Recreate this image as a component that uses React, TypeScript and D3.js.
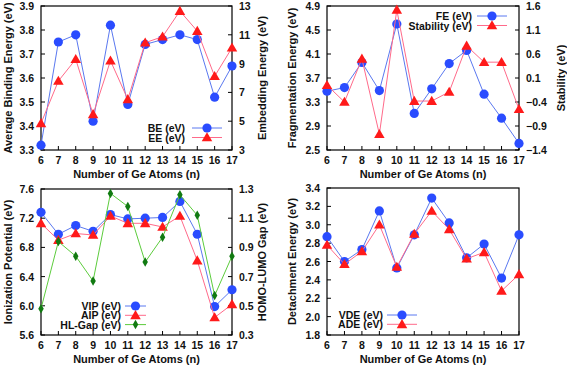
import React, { useEffect, useRef } from 'react';
import * as d3 from 'd3';

const atoms = [6, 7, 8, 9, 10, 11, 12, 13, 14, 15, 16, 17];

// panel (a)
const beValues = [3.32, 3.75, 3.78, 3.42, 3.82, 3.49, 3.74, 3.76, 3.78, 3.76, 3.52, 3.65];
const eeValues = [4.85, 7.79, 9.3, 5.48, 9.2, 6.52, 10.45, 10.87, 12.65, 11.26, 8.12, 10.1];
// panel (b)
const feValues = [3.48, 3.54, 3.96, 3.49, 4.6, 3.11, 3.52, 3.94, 4.16, 3.43, 3.03, 2.61];
const stabilityValues = [-0.05, -0.4, 0.5, -1.07, 1.52, -0.38, -0.38, -0.19, 0.77, 0.43, 0.43, -0.55];
// panel (c)
const vipValues = [7.28, 6.98, 7.1, 7.02, 7.25, 7.19, 7.2, 7.21, 7.43, 6.98, 5.99, 6.22];
const aipValues = [7.13, 6.9, 6.99, 6.97, 7.23, 7.13, 7.13, 7.08, 7.23, 6.62, 5.84, 6.02];
const hlGapValues = [0.48, 0.94, 0.84, 0.67, 1.27, 1.18, 0.8, 0.97, 1.26, 1.12, 0.57, 0.84];
// panel (d)
const vdeValues = [2.87, 2.6, 2.73, 3.15, 2.53, 2.89, 3.29, 3.02, 2.64, 2.79, 2.42, 2.89];
const adeValues = [2.78, 2.57, 2.71, 3.0, 2.54, 2.9, 3.15, 2.95, 2.63, 2.7, 2.28, 2.46];

const leftTicksA = [3.3, 3.4, 3.5, 3.6, 3.7, 3.8, 3.9];
const rightTicksA = [3, 5, 7, 9, 11, 13];
const leftTicksB = [2.5, 2.9, 3.3, 3.7, 4.1, 4.5, 4.9];
const rightTicksB = [-1.4, -0.9, -0.4, 0.1, 0.6, 1.1, 1.6];
const leftTicksC = [5.6, 6.0, 6.4, 6.8, 7.2, 7.6];
const rightTicksC = [0.3, 0.5, 0.7, 0.9, 1.1, 1.3];
const leftTicksD = [1.8, 2.0, 2.2, 2.4, 2.6, 2.8, 3.0, 3.2, 3.4];

const BLUE = { line: '#5a78f0', mark: '#2a4cff', shape: 'circle' };
const RED = { line: '#ff6a8a', mark: '#ff1a1a', shape: 'triangle' };
const GREEN = { line: '#5ccc3c', mark: '#117a11', shape: 'diamond' };

const FONT = '"Liberation Sans", Arial, sans-serif';

const panels = [
  {
    box: { x0: 41, x1: 232, y0: 6, y1: 150 },
    left: { ticks: leftTicksA, label: 'Average Binding Energy (eV)', labelX: 8, fmt: '.1f' },
    right: { ticks: rightTicksA, label: 'Embedding Energy (eV)', labelX: 262, fmt: 'd' },
    series: [
      { name: 'BE (eV)', values: beValues, axis: 'left', style: BLUE },
      { name: 'EE (eV)', values: eeValues, axis: 'right', style: RED },
    ],
    legend: { textX: 185, lineX0: 192, lineX1: 222, y0: 128, dy: 9.5 },
  },
  {
    box: { x0: 327, x1: 519, y0: 6, y1: 150 },
    left: { ticks: leftTicksB, label: 'Fragmentation Energy (eV)', labelX: 292, fmt: '.1f' },
    right: { ticks: rightTicksB, label: 'Stability (eV)', labelX: 561, fmt: '.1f' },
    series: [
      { name: 'FE (eV)', values: feValues, axis: 'left', style: BLUE },
      { name: 'Stability (eV)', values: stabilityValues, axis: 'right', style: RED },
    ],
    legend: { textX: 472, lineX0: 477, lineX1: 507, y0: 16, dy: 9.5 },
  },
  {
    box: { x0: 41, x1: 232, y0: 189, y1: 335 },
    left: { ticks: leftTicksC, label: 'Ionization Potential (eV)', labelX: 8, fmt: '.1f' },
    right: { ticks: rightTicksC, label: 'HOMO-LUMO Gap (eV)', labelX: 262, fmt: '.1f' },
    series: [
      { name: 'VIP (eV)', values: vipValues, axis: 'left', style: BLUE },
      { name: 'AIP (eV)', values: aipValues, axis: 'left', style: RED },
      { name: 'HL-Gap (eV)', values: hlGapValues, axis: 'right', style: GREEN },
    ],
    legend: { textX: 121, lineX0: 125, lineX1: 146, y0: 306, dy: 9.3 },
  },
  {
    box: { x0: 327, x1: 519, y0: 188, y1: 335 },
    left: { ticks: leftTicksD, label: 'Detachment Energy (eV)', labelX: 292, fmt: '.1f' },
    right: null,
    series: [
      { name: 'VDE (eV)', values: vdeValues, axis: 'left', style: BLUE },
      { name: 'ADE (eV)', values: adeValues, axis: 'left', style: RED },
    ],
    legend: { textX: 383, lineX0: 387, lineX1: 417, y0: 315, dy: 9.3 },
  },
];

function drawMarker(g, shape, x, y, color) {
  if (shape === 'circle') {
    g.append('circle').attr('cx', x).attr('cy', y).attr('r', 4.6).attr('fill', color);
  } else if (shape === 'triangle') {
    const sym = d3.symbol().type(d3.symbolTriangle).size(48);
    g.append('path').attr('d', sym()).attr('transform', `translate(${x},${y + 0.8})`).attr('fill', color);
  } else {
    const sym = d3.symbol().type(d3.symbolDiamond).size(26);
    g.append('path').attr('d', sym()).attr('transform', `translate(${x},${y})`).attr('fill', color);
  }
}

function App() {
  const svgRef = useRef(null);

  useEffect(() => {
    const svg = d3.select(svgRef.current);
    svg.selectAll('*').remove();

    panels.forEach((p) => {
      const { x0, x1, y0, y1 } = p.box;
      const g = svg.append('g');
      const xScale = d3.scaleLinear().domain([6, 17]).range([x0, x1]);
      const yLeft = d3.scaleLinear().domain(d3.extent(p.left.ticks)).range([y1, y0]);
      const yRight = p.right
        ? d3.scaleLinear().domain(d3.extent(p.right.ticks)).range([y1, y0])
        : yLeft;

      // frame
      g.append('rect')
        .attr('x', x0).attr('y', y0)
        .attr('width', x1 - x0).attr('height', y1 - y0)
        .attr('fill', 'none').attr('stroke', '#000').attr('stroke-width', 1.2);

      // x ticks (inward)
      atoms.forEach((n) => {
        const x = xScale(n);
        g.append('line').attr('x1', x).attr('x2', x).attr('y1', y1).attr('y2', y1 - 4)
          .attr('stroke', '#000').attr('stroke-width', 1);
        g.append('text').attr('class', 'tick').attr('x', x).attr('y', y1 + 14)
          .attr('text-anchor', 'middle').text(n);
      });

      // left ticks
      const lf = d3.format(p.left.fmt);
      p.left.ticks.forEach((t) => {
        const y = yLeft(t);
        g.append('line').attr('x1', x0).attr('x2', x0 + 4).attr('y1', y).attr('y2', y)
          .attr('stroke', '#000').attr('stroke-width', 1);
        g.append('text').attr('class', 'tick').attr('x', x0 - 7).attr('y', y + 4)
          .attr('text-anchor', 'end').text(lf(t));
      });

      if (p.right) {
        const rf = d3.format(p.right.fmt);
        p.right.ticks.forEach((t) => {
          const y = yRight(t);
          g.append('line').attr('x1', x1).attr('x2', x1 - 4).attr('y1', y).attr('y2', y)
            .attr('stroke', '#000').attr('stroke-width', 1);
          g.append('text').attr('class', 'tick').attr('x', x1 + 7).attr('y', y + 4)
            .attr('text-anchor', 'start').text(rf(t));
        });
        g.append('text').attr('class', 'label')
          .attr('transform', `translate(${p.right.labelX},${(y0 + y1) / 2}) rotate(-90)`)
          .attr('text-anchor', 'middle').attr('dy', '0.35em')
          .text(p.right.label);
      }

      // axis labels
      g.append('text').attr('class', 'label')
        .attr('transform', `translate(${p.left.labelX},${(y0 + y1) / 2}) rotate(-90)`)
        .attr('text-anchor', 'middle').attr('dy', '0.35em')
        .text(p.left.label);
      g.append('text').attr('class', 'label')
        .attr('x', (x0 + x1) / 2).attr('y', y1 + 28)
        .attr('text-anchor', 'middle')
        .text('Number of Ge Atoms (n)');

      // series
      p.series.forEach((s) => {
        const yS = s.axis === 'left' ? yLeft : yRight;
        const line = d3.line().x((d, i) => xScale(atoms[i])).y((d) => yS(d));
        g.append('path').attr('d', line(s.values))
          .attr('fill', 'none').attr('stroke', s.style.line).attr('stroke-width', 1);
        s.values.forEach((v, i) => drawMarker(g, s.style.shape, xScale(atoms[i]), yS(v), s.style.mark));
      });

      // legend
      p.series.forEach((s, i) => {
        const y = p.legend.y0 + i * p.legend.dy;
        g.append('text').attr('class', 'tick').attr('x', p.legend.textX).attr('y', y + 4)
          .attr('text-anchor', 'end').text(s.name);
        g.append('line').attr('x1', p.legend.lineX0).attr('x2', p.legend.lineX1)
          .attr('y1', y).attr('y2', y)
          .attr('stroke', s.style.line).attr('stroke-width', 1);
        drawMarker(g, s.style.shape, (p.legend.lineX0 + p.legend.lineX1) / 2, y, s.style.mark);
      });
    });

    svg.selectAll('text')
      .attr('font-family', FONT)
      .attr('font-weight', 'bold')
      .attr('fill', '#111');
    svg.selectAll('text.tick').attr('font-size', 10.5);
    svg.selectAll('text.label').attr('font-size', 11);
  }, []);

  return (
    <svg ref={svgRef} width={567} height={368}
      style={{ position: 'absolute', left: 0, top: 0, background: '#fff' }} />
  );
}

export default App;
